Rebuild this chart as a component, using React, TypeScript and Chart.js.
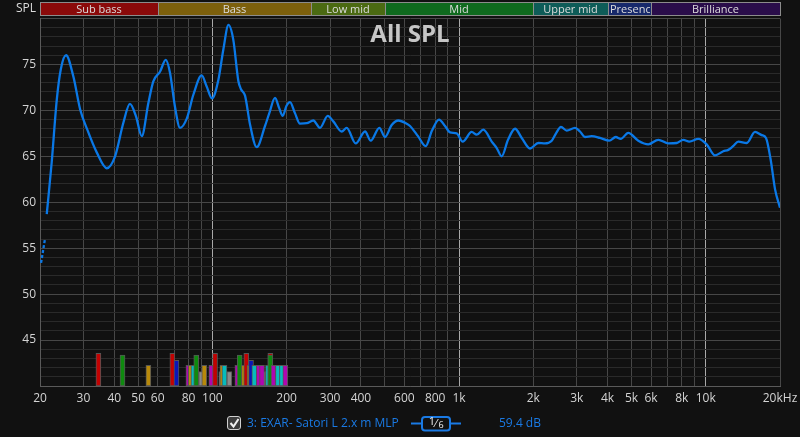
import React, { useEffect, useRef } from "react";
import { Chart, registerables } from "chart.js";

Chart.register(...registerables);

// ---- Data ----
const freqHz = [
  21.3, 22.3, 23.4, 24.3, 25.5, 27.3, 29.1, 31.1, 34.0, 37.3, 40.3, 43.5, 46.3, 49.0, 51.7, 55.0, 57.6, 61.3, 64.7, 67.3,
  70.5, 73.9, 78.7, 83.7, 90.5, 94.8, 99.6, 105.7, 110.7, 116.2, 121.5, 127.4, 130.6, 135.6, 142.0, 151.2, 163.4, 170.1,
  179.4, 186.2, 192.7, 199.7, 206.3, 216.1, 226.5, 241.2, 256.4, 272.9, 293.4, 309.1, 334.3, 350.3, 381.0, 415.7, 438.3,
  475.0, 500.7, 533.2, 567.1, 613.3, 632.5, 681.4, 732.1, 776.5, 829.2, 876.9, 918.8, 977.9, 1034, 1125, 1179, 1254,
  1356, 1421, 1488, 1579, 1686, 1795, 1939, 2095, 2230, 2375, 2472, 2589, 2731, 2951, 3091, 3239, 3447, 3727, 4064,
  4316, 4522, 4853, 5328, 5851, 6424, 7052, 7626, 8110, 8578, 9331, 10090, 10905, 11780, 12340, 12900, 13560, 14660,
  15840, 16870, 17550, 18340, 19100, 20000,
];
const splDb = [
  58.7, 64.3, 71.2, 74.5, 76.0, 73.7, 70.1, 67.9, 65.4, 63.7, 65.0, 68.6, 70.7, 69.35, 67.2, 70.8, 73.15, 74.2, 75.5, 74.1,
  70.4, 68.1, 69.1, 71.7, 73.8, 72.6, 71.3, 73.3, 76.6, 79.3, 77.7, 73.2, 72.3, 71.6, 68.5, 66.0, 68.3, 69.7,
  71.35, 70.3, 69.4, 70.5, 70.9, 69.7, 68.55, 68.6, 68.9, 68.1, 69.4, 68.8, 67.7, 68.1, 66.4, 67.7, 66.7,
  68.1, 67.1, 68.4, 68.9, 68.55, 68.3, 67.2, 66.1, 67.8, 69.0, 68.3, 67.6, 67.5, 66.6, 67.65, 67.35, 67.9,
  66.6, 65.9, 65.0, 66.8, 68.0, 67.0, 65.85, 66.45, 66.4, 66.7, 67.5, 68.2, 67.8, 68.1, 67.7, 67.1, 67.2, 67.0, 66.7,
  67.1, 66.9, 67.55, 66.7, 66.3, 66.8, 66.4, 66.45, 66.8, 66.6, 66.9, 66.3, 65.1, 65.55, 65.7, 66.1, 66.6, 66.45,
  67.65, 67.3, 67.0, 64.6, 61.4, 59.4,
];
const dashFreqHz = [20.2, 20.95];
const dashSplDb = [53.4, 56.0];

// Mode markers at the bottom (grey ones first, they sit behind)
const modeFreqHz = [
  90.1, 108.7, 117.1, 131.2, 152.1, 156.0, 161.9, 168.0, 180.5, 184.5, 190.6, 195.5,
  34.5, 43.2, 55.0, 68.8, 71.5, 79.9, 81.7, 83.8, 86.0, 92.7, 99.0, 102.5, 109.7, 111.9,
  126.2, 129.0, 134.3, 137.2, 141.4, 143.4, 147.9, 154.1, 158.9, 168.0, 171.7, 171.7, 177.0,
  184.4, 191.4, 197.5,
];
const modeLevelDb = [
  41.56, 41.56, 41.56, 41.56, 41.56, 41.56, 41.56, 41.56, 41.56, 41.56, 41.56, 41.56,
  43.56, 43.37, 42.25, 43.56, 42.8, 42.25, 42.25, 42.25, 43.37, 42.25, 42.25, 43.56, 42.25, 42.25,
  42.25, 43.37, 42.25, 43.56, 42.25, 42.8, 42.25, 42.25, 42.25, 42.25, 43.56, 43.37, 42.25,
  42.25, 42.25, 42.25,
];
const modeKind = [
  "K", "K", "K", "K", "K", "K", "K", "K", "K", "K", "K", "K",
  "R", "G", "Y", "R", "B", "M", "Y", "C", "G", "Y", "M", "R", "Y", "C",
  "M", "G", "Y", "R", "Y", "B", "C", "M", "M", "C", "R", "G", "M",
  "C", "C", "M",
];
const modeColors: Record<string, string> = {
  R: "#c20202",
  G: "#0e8a0e",
  Y: "#b8890a",
  B: "#0b16b8",
  M: "#b006b0",
  C: "#06bcbc",
  K: "#8a8a8a",
};

const bandNames = ["Sub bass", "Bass", "Low mid", "Mid", "Upper mid", "Presence", "Brilliance"];
const bandEdgesHz = [20, 60, 250, 500, 2000, 4000, 6000, 20000];
const bandColors = ["#8a0a0a", "#7d600c", "#4b6a12", "#0f6a1e", "#0e5c58", "#17296b", "#2a0d4a"];

const xGridHz = [
  20, 30, 40, 50, 60, 70, 80, 90, 100, 200, 300, 400, 500, 600, 700, 800, 900, 1000,
  2000, 3000, 4000, 5000, 6000, 7000, 8000, 9000, 10000, 20000,
];
const xLabelHz = [20, 30, 40, 50, 60, 80, 100, 200, 300, 400, 600, 800, 1000, 2000, 3000, 4000, 5000, 6000, 8000, 10000, 20000];
const xLabelText = ["20", "30", "40", "50", "60", "80", "100", "200", "300", "400", "600", "800", "1k", "2k", "3k", "4k", "5k", "6k", "8k", "10k", "20kHz"];
const xBrightHz = [100, 1000, 10000];

const yMin = 40;
const yMax = 80;
const yLabelDb = [45, 50, 55, 60, 65, 70, 75];

const FONT = '"Open Sans", "Noto Sans", sans-serif';
const BLUE = "#1a7ae4";

function roundRect(ctx: CanvasRenderingContext2D, x: number, y: number, w: number, h: number, r: number) {
  ctx.beginPath();
  ctx.moveTo(x + r, y);
  ctx.lineTo(x + w - r, y);
  ctx.arcTo(x + w, y, x + w, y + r, r);
  ctx.lineTo(x + w, y + h - r);
  ctx.arcTo(x + w, y + h, x + w - r, y + h, r);
  ctx.lineTo(x + r, y + h);
  ctx.arcTo(x, y + h, x, y + h - r, r);
  ctx.lineTo(x, y + r);
  ctx.arcTo(x, y, x + r, y, r);
  ctx.closePath();
}

const decorPlugin = {
  id: "decor",
  beforeDraw(chart: any) {
    const { ctx, width, height } = chart;
    ctx.save();
    ctx.fillStyle = "#111111";
    ctx.fillRect(0, 0, width, height);
    ctx.restore();
  },
  afterDraw(chart: any) {
    const ctx: CanvasRenderingContext2D = chart.ctx;
    const xs = chart.scales.x;
    const area = chart.chartArea;
    ctx.save();
    // Band header
    for (let i = 0; i < bandNames.length; i++) {
      const x0 = Math.round(xs.getPixelForValue(bandEdgesHz[i]));
      const x1 = Math.round(xs.getPixelForValue(bandEdgesHz[i + 1]));
      ctx.fillStyle = bandColors[i];
      ctx.fillRect(x0, 2, x1 - x0, 14);
      ctx.strokeStyle = "#8c8c8c";
      ctx.lineWidth = 1;
      ctx.strokeRect(x0 + 0.5, 2.5, x1 - x0, 13);
      ctx.save();
      ctx.beginPath();
      ctx.rect(x0 + 1, 3, x1 - x0 - 2, 12);
      ctx.clip();
      ctx.fillStyle = "#dcdcdc";
      ctx.font = `11px ${FONT}`;
      ctx.textAlign = "center";
      ctx.textBaseline = "middle";
      const tw = ctx.measureText(bandNames[i]).width;
      const cx = tw > x1 - x0 - 4 ? x0 + 2 + tw / 2 : (x0 + x1) / 2;
      ctx.fillText(bandNames[i], cx, 9.5);
      ctx.restore();
    }
    // SPL axis label
    ctx.fillStyle = "#dcdcdc";
    ctx.font = `12px ${FONT}`;
    ctx.textAlign = "right";
    ctx.textBaseline = "middle";
    ctx.fillText("SPL", 36, 9);
    // Title
    ctx.fillStyle = "#c6c6c6";
    ctx.font = `bold 24px ${FONT}`;
    ctx.textAlign = "center";
    ctx.textBaseline = "middle";
    ctx.fillText("All SPL", (area.left + area.right) / 2, 35);
    // Legend row
    const ly = 423.5;
    roundRect(ctx, 227.5, 416.5, 13, 13, 2.5);
    ctx.fillStyle = "#3c3c3c";
    ctx.fill();
    ctx.strokeStyle = "#d0d0d0";
    ctx.lineWidth = 1;
    ctx.stroke();
    ctx.beginPath();
    ctx.moveTo(230.5, 423);
    ctx.lineTo(233.5, 426.5);
    ctx.lineTo(238.5, 419);
    ctx.strokeStyle = "#f0f0f0";
    ctx.lineWidth = 2;
    ctx.stroke();
    ctx.fillStyle = BLUE;
    ctx.font = `12px ${FONT}`;
    ctx.textAlign = "left";
    ctx.textBaseline = "middle";
    ctx.fillText("3: EXAR- Satori L 2.x m MLP", 247, ly);
    ctx.fillText("59.4 dB", 499, ly);
    ctx.strokeStyle = BLUE;
    ctx.lineWidth = 2;
    ctx.beginPath();
    ctx.moveTo(411, ly);
    ctx.lineTo(422, ly);
    ctx.moveTo(450, ly);
    ctx.lineTo(461, ly);
    ctx.stroke();
    roundRect(ctx, 422, 417, 28, 13.5, 3);
    ctx.stroke();
    ctx.fillStyle = "#f0f0f0";
    ctx.textAlign = "center";
    ctx.font = `11px ${FONT}`;
    ctx.fillText("1", 432, 422);
    ctx.fillText("\u2044", 436, 423.5);
    ctx.font = `9px ${FONT}`;
    ctx.fillText("6", 441, 425.5);
    ctx.restore();
  },
};

export default function App() {
  const canvasRef = useRef<HTMLCanvasElement | null>(null);

  useEffect(() => {
    document.body.style.margin = "0";
    document.body.style.background = "#111111";
    const canvas = canvasRef.current;
    if (!canvas) return;

    const lineData = freqHz.map((f, i) => ({ x: f, y: splDb[i] }));
    const dashData = dashFreqHz.map((f, i) => ({ x: f, y: dashSplDb[i] }));
    const modeData = modeFreqHz.map((f, i) => ({ x: f, y: [yMin, modeLevelDb[i]] }));

    const chart = new Chart(canvas, {
      type: "line",
      data: {
        datasets: [
          {
            type: "line",
            data: lineData,
            borderColor: "#0a78e6",
            borderWidth: 2.3,
            pointRadius: 0,
            cubicInterpolationMode: "monotone",
            fill: false,
          },
          {
            type: "line",
            data: dashData,
            borderColor: "#0a78e6",
            borderWidth: 2.3,
            borderDash: [3, 2],
            pointRadius: 0,
            fill: false,
          },
          {
            type: "bar",
            data: modeData as any,
            backgroundColor: modeKind.map((k) => modeColors[k]),
            borderColor: "#555555",
            borderWidth: 1,
            borderSkipped: false,
            barThickness: 5,
          },
        ],
      } as any,
      options: {
        responsive: false,
        animation: false,
        events: [],
        layout: { padding: { top: 18.5, right: 20, left: 0, bottom: 0 } },
        plugins: {
          legend: { display: false },
          tooltip: { enabled: false },
          title: { display: false },
        },
        scales: {
          x: {
            type: "logarithmic",
            min: 20,
            max: 20000,
            offset: false,
            afterBuildTicks: (s: any) => {
              s.ticks = xGridHz.map((v) => ({ value: v }));
            },
            afterFit: (s: any) => {
              s.height = 51;
              s.paddingLeft = 0;
              s.paddingRight = 0;
            },
            grid: {
              offset: false,
              drawTicks: false,
              lineWidth: 1,
              color: (c: any) =>
                c.tick && xBrightHz.includes(c.tick.value) ? "#a8a8a8" : "#474747",
            },
            border: { color: "#5a5a5a" },
            ticks: {
              autoSkip: false,
              maxRotation: 0,
              minRotation: 0,
              padding: 5,
              color: "#d4d4d4",
              font: { family: FONT, size: 12 },
              callback: (v: any) => {
                const i = xLabelHz.indexOf(Number(v));
                return i >= 0 ? xLabelText[i] : "";
              },
            },
          },
          y: {
            type: "linear",
            min: yMin,
            max: yMax,
            afterBuildTicks: (s: any) => {
              const t = [];
              for (let v = yMin; v <= yMax; v++) t.push({ value: v });
              s.ticks = t;
            },
            afterFit: (s: any) => {
              s.width = 40;
              s.paddingTop = 0;
              s.paddingBottom = 0;
            },
            grid: {
              drawTicks: false,
              lineWidth: 1,
              color: (c: any) =>
                c.tick && c.tick.value % 5 === 0 ? "#474747" : "#2a2a2a",
            },
            border: { color: "#5a5a5a" },
            ticks: {
              autoSkip: false,
              padding: 4,
              color: "#d4d4d4",
              font: { family: FONT, size: 12 },
              callback: (v: any) => (yLabelDb.includes(Number(v)) ? String(v) : ""),
            },
          },
        },
      } as any,
      plugins: [decorPlugin],
    });

    return () => chart.destroy();
  }, []);

  return (
    <canvas
      ref={canvasRef}
      width={800}
      height={437}
      style={{ display: "block", width: 800, height: 437 }}
    />
  );
}
